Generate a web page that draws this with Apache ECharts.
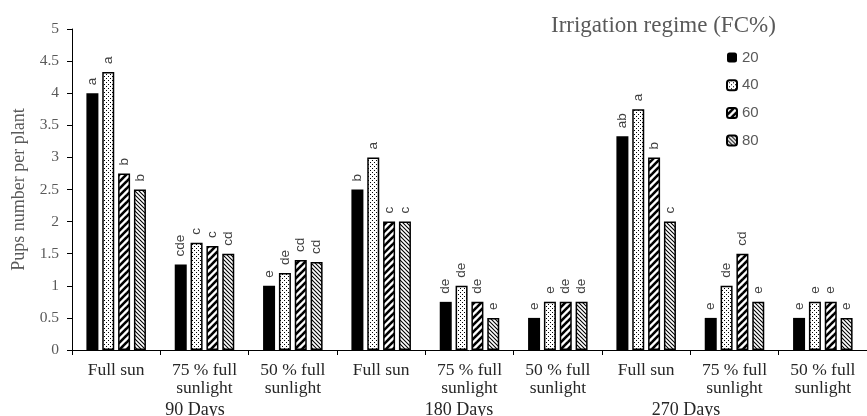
<!DOCTYPE html>
<html>
<head>
<meta charset="utf-8">
<script src="https://cdn.jsdelivr.net/npm/echarts@6/dist/echarts.min.js"></script>
<style>
  html, body { margin: 0; padding: 0; background: #fff; }
  #chart { width: 867px; height: 416px; }
</style>
</head>
<body>
<div id="chart"></div>
<script>
// 横轴分类（三个时期 x 三种光照）
var categories = [
    'Full sun', '75 % full\nsunlight', '50 % full\nsunlight',
    'Full sun', '75 % full\nsunlight', '50 % full\nsunlight',
    'Full sun', '75 % full\nsunlight', '50 % full\nsunlight'
];
var groupNames = ['90 Days', '180 Days', '270 Days'];
var seriesNames = ['20', '40', '60', '80'];

// 每个灌溉水平的数值
var fc20 = [4.0, 1.33, 1.0, 2.5, 0.75, 0.5, 3.33, 0.5, 0.5];
var fc40 = [4.33, 1.67, 1.2, 3.0, 1.0, 0.75, 3.75, 1.0, 0.75];
var fc60 = [2.75, 1.62, 1.4, 2.0, 0.75, 0.75, 3.0, 1.5, 0.75];
var fc80 = [2.5, 1.5, 1.37, 2.0, 0.5, 0.75, 2.0, 0.75, 0.5];

// 显著性字母
var let20 = ['a', 'cde', 'e', 'b', 'de', 'e', 'ab', 'e', 'e'];
var let40 = ['a', 'c', 'de', 'a', 'de', 'e', 'a', 'de', 'e'];
var let60 = ['b', 'c', 'cd', 'c', 'de', 'de', 'b', 'cd', 'e'];
var let80 = ['b', 'cd', 'cd', 'c', 'e', 'de', 'c', 'e', 'e'];

var yTicks = [0, 0.5, 1, 1.5, 2, 2.5, 3, 3.5, 4, 4.5, 5];

var serif = '"Liberation Serif", "DejaVu Serif", serif';
var sans = '"Liberation Sans", Arial, sans-serif';

function makePattern(kind) {
    var c = document.createElement('canvas');
    var ctx = c.getContext('2d');
    if (kind === 'dots') {
        c.width = 4; c.height = 4;
        ctx.fillStyle = '#fff';
        ctx.fillRect(0, 0, 4, 4);
        ctx.fillStyle = '#000';
        ctx.fillRect(0, 0, 1, 1);
        ctx.fillRect(2, 2, 1, 1);
    } else if (kind === 'wide') {
        // 粗斜线 "/"
        c.width = 7; c.height = 7;
        ctx.fillStyle = '#fff';
        ctx.fillRect(0, 0, 7, 7);
        ctx.strokeStyle = '#000';
        ctx.lineWidth = 2.6;
        for (var k = -1; k <= 1; k++) {
            ctx.beginPath();
            ctx.moveTo(-1 + k * 7, 8);
            ctx.lineTo(8 + k * 7, -1);
            ctx.stroke();
        }
    } else {
        // 细斜线 "\"
        c.width = 4; c.height = 4;
        ctx.fillStyle = '#fff';
        ctx.fillRect(0, 0, 4, 4);
        ctx.strokeStyle = '#000';
        ctx.lineWidth = 1.1;
        for (var k = -1; k <= 1; k++) {
            ctx.beginPath();
            ctx.moveTo(-1 + k * 4, -1);
            ctx.lineTo(5 + k * 4, 5);
            ctx.stroke();
        }
    }
    return { image: c, repeat: 'repeat' };
}

var fills = ['#000', makePattern('dots'), makePattern('wide'), makePattern('thin')];
var values = [fc20, fc40, fc60, fc80];
var letters = [let20, let40, let60, let80];

var series = [];
for (let i = 0; i < seriesNames.length; i++) {
    series.push({
        name: seriesNames[i],
        type: 'bar',
        data: values[i],
        barWidth: 12,
        barGap: '32%',
        barCategoryGap: '31%',
        itemStyle: {
            color: fills[i],
            borderColor: '#000',
            borderWidth: i === 0 ? 0 : 1.5
        },
        label: {
            show: true,
            position: 'top',
            rotate: 90,
            align: 'left',
            verticalAlign: 'middle',
            distance: 8,
            fontFamily: sans,
            fontSize: 13.5,
            color: '#404040',
            formatter: function (p) {
                return letters[i][p.dataIndex];
            }
        },
        emphasis: { disabled: true }
    });
}

var chart = echarts.init(document.getElementById('chart'));
chart.setOption({
    animation: false,
    title: {
        text: 'Irrigation regime (FC%)',
        left: 546,
        top: 9,
        textStyle: {
            fontFamily: serif,
            fontSize: 23,
            fontWeight: 'normal',
            color: '#595959'
        }
    },
    legend: {
        data: seriesNames,
        orient: 'vertical',
        left: 721,
        top: 45,
        itemWidth: 10,
        itemHeight: 10,
        itemGap: 12.7,
        textStyle: {
            fontFamily: sans,
            fontSize: 15,
            color: '#595959'
        }
    },
    grid: {
        left: 72,
        right: -7,
        top: 29,
        bottom: 66
    },
    xAxis: {
        type: 'category',
        data: categories,
        axisLine: { lineStyle: { color: '#000', width: 1 } },
        axisTick: { show: true, length: 5, lineStyle: { color: '#000' } },
        axisLabel: {
            fontFamily: serif,
            fontSize: 17.5,
            color: '#262626',
            lineHeight: 18,
            margin: 11
        },
        splitLine: { show: false }
    },
    yAxis: {
        type: 'value',
        min: yTicks[0],
        max: yTicks[yTicks.length - 1],
        interval: 0.5,
        name: 'Pups number per plant',
        nameLocation: 'middle',
        nameGap: 44,
        nameTextStyle: {
            fontFamily: serif,
            fontSize: 18,
            color: '#595959'
        },
        axisLine: { show: true, lineStyle: { color: '#000' } },
        axisTick: { show: true, length: 5, lineStyle: { color: '#000' } },
        axisLabel: {
            fontFamily: serif,
            fontSize: 15.5,
            color: '#595959',
            margin: 13
        },
        splitLine: { show: false }
    },
    graphic: groupNames.map(function (g, k) {
        var xs = [195, 459, 686];
        return {
            type: 'text',
            x: xs[k],
            y: 410,
            style: {
                text: g,
                fontFamily: serif,
                fontSize: 18,
                fill: '#262626',
                align: 'center',
                verticalAlign: 'middle'
            }
        };
    }),
    series: series
});
</script>
</body>
</html>
